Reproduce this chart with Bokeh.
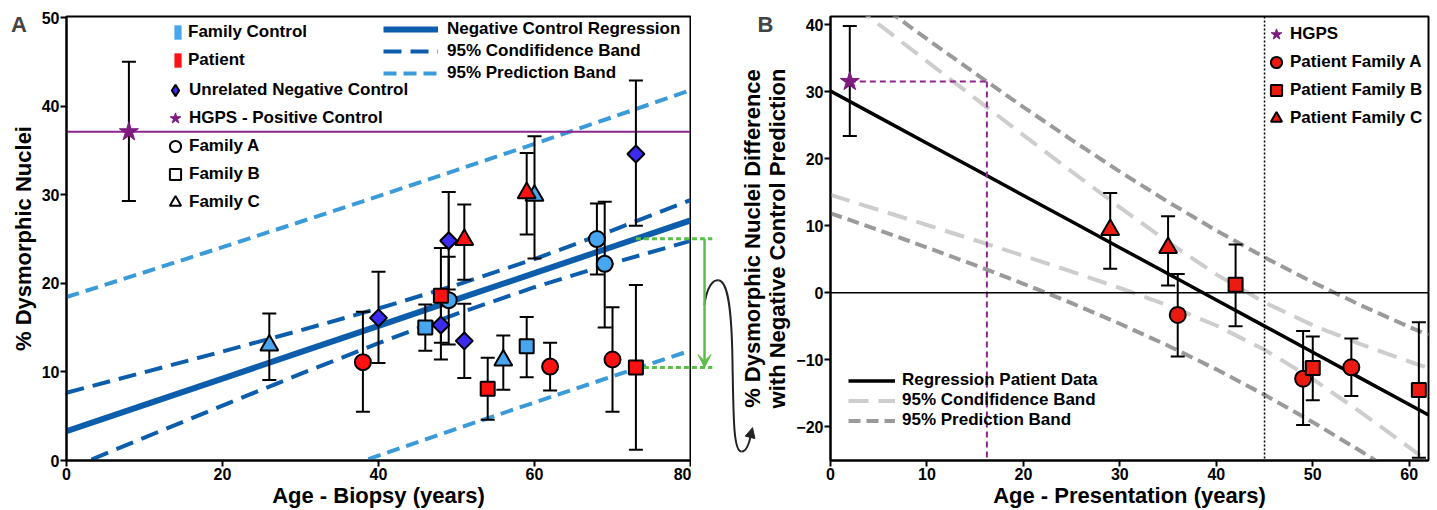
import numpy as np
from bokeh.plotting import figure
from bokeh.models import (ColumnDataSource, Whisker, TeeHead, Legend, LegendItem, FixedTicker,
                          Span, Label, Arrow, NormalHead, VeeHead, Range1d)
from bokeh.layouts import row
from bokeh.embed import file_html
from bokeh.resources import INLINE

FONT = "Liberation Sans"
NAN = float("nan")

# ================= Panel A data =================
a_x_ticks = [0, 20, 40, 60, 80]
a_y_ticks = [0, 10, 20, 30, 40, 50]

# family controls (light blue) - family A circles, B squares, C triangles
fcA_age = [49, 68, 69]
fcA_val = [18.1, 25.0, 22.2]
fcA_hi = [23.0, 29.0, 29.2]
fcA_lo = [13.1, 21.0, 15.0]
fcB_age = [46, 59]
fcB_val = [15.0, 12.9]
fcB_hi = [17.6, 16.2]
fcB_lo = [12.4, 9.4]
fcC_age = [26, 56, 60]
fcC_val = [13.0, 11.3, 29.9]
fcC_hi = [16.6, 14.1, 36.6]
fcC_lo = [9.1, 8.0, 22.8]

# patients (red)
ptA_age = [38, 62, 70]
ptA_val = [11.1, 10.6, 11.4]
ptA_hi = [16.8, 13.3, 17.3]
ptA_lo = [5.5, 7.9, 5.5]
ptB_age = [48, 54, 73]
ptB_val = [18.6, 8.1, 10.5]
ptB_hi = [24.0, 11.6, 19.8]
ptB_lo = [13.3, 4.6, 1.2]
ptC_age = [51, 59]
ptC_val = [24.9, 30.2]
ptC_hi = [28.9, 34.7]
ptC_lo = [20.4, 25.5]

# unrelated negative controls
neg_age = [40, 48, 49, 51, 73]
neg_val = [16.1, 15.3, 24.8, 13.5, 34.6]
neg_hi = [21.3, 19.2, 30.3, 17.7, 42.9]
neg_lo = [11.0, 11.4, 19.3, 9.3, 26.5]

# HGPS positive control
hgps_age = [8]
hgps_val = [37.1]
hgps_hi = [45.0]
hgps_lo = [29.3]

# negative control regression with bands
regA_x = [0, 10, 20, 30, 40, 50, 60, 70, 80]
regA_fit = [3.30, 6.28, 9.25, 12.23, 15.20, 18.18, 21.15, 24.13, 27.10]
regA_conf_hi = [7.65, 9.97, 12.30, 14.69, 17.16, 19.81, 22.74, 25.98, 29.41]
regA_conf_lo = [-1.05, 2.59, 6.20, 9.77, 13.24, 16.55, 19.56, 22.28, 24.79]
regA_pred_hi = [18.45, 21.25, 24.08, 26.95, 29.84, 32.78, 35.75, 38.76, 41.79]
regA_pred_lo = [-11.85, -8.69, -5.58, -2.49, 0.56, 3.58, 6.55, 9.50, 12.41]

# ================= Panel B data =================
b_x_ticks = [0, 10, 20, 30, 40, 50, 60]
b_y_ticks = [-20, -10, 0, 10, 20, 30, 40]

hgpsB_age = [2]
hgpsB_val = [31.5]
hgpsB_hi = [39.8]
hgpsB_lo = [23.4]
pfA_age = [36, 49, 54]
pfA_val = [-3.3, -12.8, -11.1]
pfA_hi = [2.8, -5.7, -6.8]
pfA_lo = [-9.5, -19.7, -15.4]
pfB_age = [42, 50, 61]
pfB_val = [1.2, -11.2, -14.5]
pfB_hi = [7.2, -6.5, -4.4]
pfB_lo = [-5.0, -16.0, -24.6]
pfC_age = [29, 35]
pfC_val = [9.4, 6.7]
pfC_hi = [14.9, 11.4]
pfC_lo = [3.6, 1.1]

regB_x = [0, 5, 10, 15, 20, 25, 30, 35, 40, 45, 50, 55, 60, 62]
regB_fit = [30.10, 26.20, 22.31, 18.42, 14.52, 10.63, 6.73, 2.84, -1.06, -4.96, -8.85, -12.75, -16.64, -18.20]
regB_conf_hi = [45.59, 40.04, 34.51, 29.00, 23.51, 18.09, 12.74, 7.57, 2.75, -1.43, -4.83, -7.68, -10.24, -11.22]
regB_conf_lo = [14.61, 12.36, 10.11, 7.84, 5.53, 3.17, 0.72, -1.89, -4.87, -8.49, -12.87, -17.82, -23.04, -25.18]
regB_pred_hi = [48.34, 43.06, 37.85, 32.72, 27.69, 22.80, 18.07, 13.56, 9.29, 5.29, 1.58, -1.87, -5.08, -6.31]
regB_pred_lo = [11.86, 9.34, 6.77, 4.12, 1.35, -1.54, -4.61, -7.88, -11.41, -15.21, -19.28, -23.63, -28.20, -30.09]
cutoff_age = 45

# ================= styles =================
LB = "#47A6EE"
RED_A = "#FF1111"
RED_B = "#EC1B12"
NEG = "#3C2BF0"
PURPLE = "#7D1B7E"
PURPLE_LINE = "#8E2490"
REG_BLUE = "#0C5EAD"
PRED_BLUE = "#3A9BD8"
GREEN = "#5CBF4B"
CONF_GRAY = "#CDCDCD"
PRED_GRAY = "#9A9A9A"

H = 510
TOP = 16
BOT = 50
A_Y_END = 50.12
frameA_h = H - TOP - BOT
units_per_px_y = A_Y_END / frameA_h
px_per_unit = 624 / 80.0


def style_axes(p):
    for ax in list(p.xaxis) + list(p.yaxis):
        ax.axis_line_width = 2
        ax.major_tick_line_width = 2
        ax.major_tick_out = 6
        ax.major_tick_in = 0
        ax.minor_tick_line_color = None
        ax.major_label_text_font = FONT
        ax.major_label_text_font_style = "bold"
        ax.major_label_text_font_size = "16px"
        ax.major_label_text_color = "black"
        ax.axis_label_text_font = FONT
        ax.axis_label_text_font_style = "bold"
        ax.axis_label_text_font_size = "22px"
        ax.axis_label_text_color = "black"
        ax.major_label_standoff = 1
        ax.axis_label_standoff = 0
    p.xgrid.visible = False
    p.ygrid.visible = False


def add_err(p, xs, lo, hi):
    src = ColumnDataSource(dict(x=xs, lo=lo, hi=hi))
    w = Whisker(source=src, base="x", lower="lo", upper="hi", line_color="black", line_width=2,
                upper_head=TeeHead(size=14, line_width=2, line_color="black"),
                lower_head=TeeHead(size=14, line_width=2, line_color="black"), level="underlay")
    p.add_layout(w)


def mk_legend(items, loc, gw, gh, lh, spacing, standoff):
    return Legend(items=items, location=loc, orientation="vertical", glyph_width=gw, glyph_height=gh,
                  label_height=lh, spacing=spacing, label_standoff=standoff, padding=0, margin=0,
                  border_line_color=None, background_fill_alpha=0.0,
                  label_text_font=FONT, label_text_font_style="bold", label_text_font_size="17px",
                  label_text_color="black")


def strip(width, x_range):
    # transparent, axis-less strip whose frame lines up with panel A's frame
    return figure(width=width, height=H, x_range=x_range, y_range=Range1d(0, A_Y_END), title=None,
                  output_backend="svg", toolbar_location=None, min_border_left=0, min_border_right=0,
                  min_border_top=TOP, min_border_bottom=BOT, outline_line_color=None,
                  x_axis_type=None, y_axis_type=None, border_fill_alpha=0.0, background_fill_alpha=0.0,
                  align="start")


# ================= "A" panel letter (strip underneath panel A's left margin) =================
pLabA = strip(30, Range1d(0, 30))
pLabA.add_layout(Label(x=18.5, y=A_Y_END - (24 - TOP) * units_per_px_y, text="A", text_font=FONT,
                       text_font_style="bold", text_font_size="22px", text_align="center",
                       text_baseline="middle"))

# ================= Panel A =================
pA = figure(width=691, height=H, x_range=Range1d(0, 80), y_range=Range1d(0, A_Y_END), title=None,
            output_backend="svg", toolbar_location=None, min_border_left=66, min_border_right=1,
            min_border_top=TOP, min_border_bottom=BOT, outline_line_color="black", outline_line_width=2,
            border_fill_alpha=0.0, align="start",
            x_axis_label="Age - Biopsy (years)", y_axis_label="% Dysmorphic Nuclei")
pA.margin = (0, 0, 0, -30)
style_axes(pA)
pA.yaxis.axis_label_standoff = 3
pA.xaxis.ticker = FixedTicker(ticks=a_x_ticks)
pA.yaxis.ticker = FixedTicker(ticks=a_y_ticks)

# HGPS level line
pA.add_layout(Span(location=hgps_val[0], dimension="width", line_color=PURPLE_LINE, line_width=2,
                   level="underlay"))

# regression + bands
r_pred = pA.line(regA_x, regA_pred_hi, line_color=PRED_BLUE, line_width=4, line_dash="13 7", level="underlay")
pA.line(regA_x, regA_pred_lo, line_color=PRED_BLUE, line_width=4, line_dash="13 7", level="underlay")
r_conf = pA.line(regA_x, regA_conf_hi, line_color=REG_BLUE, line_width=4, line_dash="18 9", level="underlay")
pA.line(regA_x, regA_conf_lo, line_color=REG_BLUE, line_width=4, line_dash="18 9", level="underlay")
r_reg = pA.line(regA_x, regA_fit, line_color=REG_BLUE, line_width=6, level="underlay")

# green annotation (patient value vs negative-control prediction at the same age)
g_age = ptB_age[2]
g_pat = ptB_val[2]
g_reg = float(np.interp(g_age, regA_x, regA_fit))
G_X_END = 82.8
G_X_ARROW = 81.8
green_src = dict(x0=[g_age, g_age], y0=[g_reg, g_pat], x1=[G_X_END, G_X_END], y1=[g_reg, g_pat])
pA.segment(x0="x0", y0="y0", x1="x1", y1="y1", source=ColumnDataSource(green_src),
           line_color=GREEN, line_width=3, line_dash="5 3")

# error bars
for xs, lo, hi in [(fcA_age, fcA_lo, fcA_hi), (fcB_age, fcB_lo, fcB_hi), (fcC_age, fcC_lo, fcC_hi),
                   (ptA_age, ptA_lo, ptA_hi), (ptB_age, ptB_lo, ptB_hi), (ptC_age, ptC_lo, ptC_hi),
                   (neg_age, neg_lo, neg_hi), (hgps_age, hgps_lo, hgps_hi)]:
    add_err(pA, xs, lo, hi)

# markers
pA.scatter(fcA_age, fcA_val, marker="circle", size=16, fill_color=LB, line_color="black", line_width=2)
pA.scatter(fcB_age, fcB_val, marker="square", size=14, fill_color=LB, line_color="black", line_width=2)
pA.scatter(fcC_age, fcC_val, marker="triangle", size=18, fill_color=LB, line_color="black", line_width=2)
pA.scatter(ptA_age, ptA_val, marker="circle", size=16, fill_color=RED_A, line_color="black", line_width=2)
pA.scatter(ptB_age, ptB_val, marker="square", size=14, fill_color=RED_A, line_color="black", line_width=2)
pA.scatter(ptC_age, ptC_val, marker="triangle", size=18, fill_color=RED_A, line_color="black", line_width=2)
pA.scatter(neg_age, neg_val, marker="square", angle=np.pi / 4, size=12, fill_color=NEG,
           line_color="black", line_width=2)
pA.scatter(hgps_age, hgps_val, marker="star", size=20, fill_color=PURPLE, line_color=PURPLE, line_width=1)

# legend keys (renderers with no visible point, used only for legend symbols)
lk_fc = pA.rect(x=[NAN], y=[NAN], width=1, height=1, fill_color=LB, line_color=None)
lk_pt = pA.rect(x=[NAN], y=[NAN], width=1, height=1, fill_color=RED_A, line_color=None)
lk_neg = pA.scatter(x=[NAN], y=[NAN], marker="diamond", fill_color=NEG, line_color="black", line_width=2)
lk_hg = pA.scatter(x=[NAN], y=[NAN], marker="star", fill_color=PURPLE, line_color=PURPLE)
lk_fa = pA.scatter(x=[NAN], y=[NAN], marker="circle", fill_color=None, line_color="black", line_width=2)
lk_fb = pA.scatter(x=[NAN], y=[NAN], marker="square", fill_color=None, line_color="black", line_width=2)
lk_fcc = pA.scatter(x=[NAN], y=[NAN], marker="triangle", fill_color=None, line_color="black", line_width=2)

pA.add_layout(mk_legend([LegendItem(label="Family Control", renderers=[lk_fc]),
                         LegendItem(label="Patient", renderers=[lk_pt])],
                        (107, 390), 9, 18, 20, 8, 6))
pA.add_layout(mk_legend([LegendItem(label="Unrelated Negative Control", renderers=[lk_neg]),
                         LegendItem(label="HGPS - Positive Control", renderers=[lk_hg]),
                         LegendItem(label="Family A", renderers=[lk_fa]),
                         LegendItem(label="Family B", renderers=[lk_fb]),
                         LegendItem(label="Family C", renderers=[lk_fcc])],
                        (95, 244), 28, 28, 20, 0, 0))
pA.add_layout(mk_legend([LegendItem(label="Negative Control Regression", renderers=[r_reg]),
                         LegendItem(label="95% Condifidence Band", renderers=[r_conf]),
                         LegendItem(label="95% Prediction Band", renderers=[r_pred])],
                        (317, 377), 55, 20, 20, 2, 9))

# ================= connector strip between the panels (same scales as panel A) =================
C_W = 124
c_x0 = 80 + 1 / px_per_unit
c_x1 = c_x0 + C_W / px_per_unit
pC = strip(C_W, Range1d(c_x0, c_x1))
pC.segment(x0="x0", y0="y0", x1="x1", y1="y1", source=ColumnDataSource(green_src),
           line_color=GREEN, line_width=3, line_dash="5 3")
pC.add_layout(Arrow(x_start=G_X_ARROW, y_start=g_reg, x_end=G_X_ARROW, y_end=g_pat,
                    line_color=GREEN, line_width=2.5,
                    end=VeeHead(size=13, fill_color=GREEN, line_color=GREEN, line_width=1)))
curve = dict(
    x0=[81.79, 83.59, 85.38, 86.54], y0=[17.53, 20.34, 11.35, 1.01],
    cx0=[82.05, 84.62, 85.51, 87.18], cy0=[19.44, 20.22, 4.61, 1.01],
    cx1=[82.82, 85.26, 85.51, 87.56], cy1=[20.45, 18.09, 1.01, 1.91],
    x1=[83.59, 85.38, 86.54, 87.82], y1=[20.34, 11.35, 1.01, 3.26],
)
pC.bezier(x0="x0", y0="y0", x1="x1", y1="y1", cx0="cx0", cy0="cy0", cx1="cx1", cy1="cy1",
          source=ColumnDataSource(curve), line_color="#222222", line_width=2)
pC.add_layout(Arrow(x_start=87.63, y_start=2.58, x_end=87.95, y_end=3.71, line_color="#222222", line_width=2,
                    end=NormalHead(size=10, fill_color="#222222", line_color="#222222", line_width=1)))
pC.add_layout(Label(x=c_x0 + (765 - 691) / px_per_unit, y=A_Y_END - (23.5 - TOP) * units_per_px_y,
                    text="B", text_font=FONT, text_font_style="bold", text_font_size="22px",
                    text_align="center", text_baseline="middle"))

# ================= Panel B =================
pB = figure(width=703, height=H, x_range=Range1d(0, 62), y_range=Range1d(-25, 41.2), title=None,
            output_backend="svg", toolbar_location=None, min_border_left=97, min_border_right=8,
            min_border_top=TOP, min_border_bottom=BOT, outline_line_color="black", outline_line_width=2,
            border_fill_alpha=0.0, align="start",
            x_axis_label="Age - Presentation (years)",
            y_axis_label="% Dysmorphic Nuclei Difference\nwith Negative Control Prediction")
pB.margin = (0, 0, 0, -82)
style_axes(pB)
pB.xaxis.ticker = FixedTicker(ticks=b_x_ticks)
pB.yaxis.ticker = FixedTicker(ticks=b_y_ticks)
pB.yaxis.axis_label_standoff = 3
pB.yaxis.axis_label_text_line_height = 1.0

pB.add_layout(Span(location=0, dimension="width", line_color="black", line_width=1.5, level="underlay"))
pB.add_layout(Span(location=cutoff_age, dimension="height", line_color="black", line_width=1.5,
                   line_dash="2 2", level="underlay"))

rb_pred = pB.line(regB_x, regB_pred_hi, line_color=PRED_GRAY, line_width=4, line_dash="12 6", level="underlay")
pB.line(regB_x, regB_pred_lo, line_color=PRED_GRAY, line_width=4, line_dash="12 6", level="underlay")
rb_conf = pB.line(regB_x, regB_conf_hi, line_color=CONF_GRAY, line_width=4, line_dash="20 10", level="underlay")
pB.line(regB_x, regB_conf_lo, line_color=CONF_GRAY, line_width=4, line_dash="20 10", level="underlay")
rb_reg = pB.line(regB_x, regB_fit, line_color="black", line_width=3.5, level="underlay")

# HGPS projection onto the upper prediction band
x_int = float(np.interp(hgpsB_val[0], regB_pred_hi[::-1], regB_x[::-1]))
pB.segment(x0=[hgpsB_age[0], x_int], y0=[hgpsB_val[0], hgpsB_val[0]],
           x1=[x_int, x_int], y1=[hgpsB_val[0], b_y_ticks[0] - 5],
           line_color=PURPLE_LINE, line_width=2, line_dash="6 4", level="underlay")

for xs, lo, hi in [(hgpsB_age, hgpsB_lo, hgpsB_hi), (pfA_age, pfA_lo, pfA_hi),
                   (pfB_age, pfB_lo, pfB_hi), (pfC_age, pfC_lo, pfC_hi)]:
    add_err(pB, xs, lo, hi)

rb_hg = pB.scatter(hgpsB_age, hgpsB_val, marker="star", size=20, fill_color=PURPLE, line_color=PURPLE)
rb_a = pB.scatter(pfA_age, pfA_val, marker="circle", size=16, fill_color=RED_B, line_color="black", line_width=2)
rb_b = pB.scatter(pfB_age, pfB_val, marker="square", size=14, fill_color=RED_B, line_color="black", line_width=2)
rb_c = pB.scatter(pfC_age, pfC_val, marker="triangle", size=18, fill_color=RED_B, line_color="black", line_width=2)

pB.add_layout(mk_legend([LegendItem(label="HGPS", renderers=[rb_hg]),
                         LegendItem(label="Patient Family A", renderers=[rb_a]),
                         LegendItem(label="Patient Family B", renderers=[rb_b]),
                         LegendItem(label="Patient Family C", renderers=[rb_c])],
                        (432, 328), 28, 28, 20, 0, 0))
pB.add_layout(mk_legend([LegendItem(label="Regression Patient Data", renderers=[rb_reg]),
                         LegendItem(label="95% Condifidence Band", renderers=[rb_conf]),
                         LegendItem(label="95% Prediction Band", renderers=[rb_pred])],
                        (18, 30), 47, 19, 19, 0, 7))

layout = row(pLabA, pA, pC, pB)
open("out.html", "w").write(file_html(layout, INLINE))
